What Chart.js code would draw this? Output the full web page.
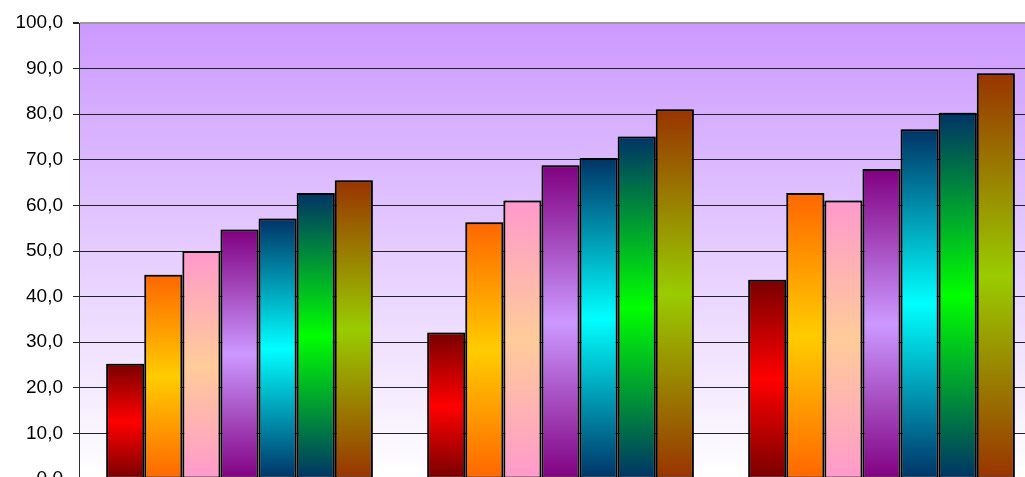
<!DOCTYPE html>
<html>
<head>
<meta charset="utf-8">
<script src="https://cdn.jsdelivr.net/npm/chart.js@4/dist/chart.umd.min.js"></script>
<style>
  html, body { margin: 0; padding: 0; background: #fff; overflow: hidden; }
  #wrap { width: 1042px; height: 501px; }
</style>
</head>
<body>
<div id="wrap"><canvas id="chart" width="1042" height="501"></canvas></div>
<script>
// categorie (le etichette dell'asse x sono fuori dall'immagine)
const categories = ['1', '2', '3'];

// valori delle 7 serie
const serie1 = [25.3, 32.1, 43.7];
const serie2 = [44.8, 56.3, 62.7];
const serie3 = [50.0, 61.1, 61.1];
const serie4 = [54.7, 68.8, 68.0];
const serie5 = [57.1, 70.4, 76.7];
const serie6 = [62.7, 75.1, 80.3];
const serie7 = [65.5, 81.1, 89.0];

const seriesNames = ['Serie 1', 'Serie 2', 'Serie 3', 'Serie 4', 'Serie 5', 'Serie 6', 'Serie 7'];
const seriesValues = [serie1, serie2, serie3, serie4, serie5, serie6, serie7];

// asse y
const yMin = 0, yMax = 100, yStep = 10;

// colori sfumatura: bordo (alto/basso) e centro
const edgeColors   = ['#780000', '#FF6600', '#FF99CC', '#800080', '#003366', '#003366', '#993300'];
const centerColors = ['#FF0000', '#FFCC00', '#FFCC99', '#CC99FF', '#00FFFF', '#00FF00', '#99CC00'];

// sfumatura verticale relativa alla singola barra
function barGradient(i) {
    return function(ctx) {
        const chart = ctx.chart;
        if (!chart.chartArea || ctx.raw == null) return centerColors[i];
        const y = chart.scales.y;
        const top = y.getPixelForValue(ctx.raw);
        const bot = y.getPixelForValue(0);
        const g = chart.ctx.createLinearGradient(0, bot, 0, top);
        g.addColorStop(0, edgeColors[i]);
        g.addColorStop(0.5, centerColors[i]);
        g.addColorStop(1, edgeColors[i]);
        return g;
    };
}

// sfondo dell'area del grafico: viola in alto, bianco in basso
const plotBackground = {
    id: 'plotBackground',
    beforeDraw(chart) {
        const { ctx, chartArea: a } = chart;
        const g = ctx.createLinearGradient(0, a.top, 0, a.bottom);
        g.addColorStop(0, '#CC99FF');
        g.addColorStop(1, '#FFFFFF');
        ctx.save();
        ctx.fillStyle = g;
        ctx.fillRect(a.left, a.top, a.right - a.left, a.bottom - a.top);
        ctx.restore();
    }
};

// ombra grigia delle barre
const barShadow = {
    id: 'barShadow',
    beforeDatasetsDraw(chart) {
        chart.ctx.save();
        chart.ctx.shadowColor = 'rgba(0,0,0,0.35)';
        chart.ctx.shadowBlur = 2;
        chart.ctx.shadowOffsetX = 1;
        chart.ctx.shadowOffsetY = -1;
    },
    afterDatasetsDraw(chart) {
        chart.ctx.restore();
    }
};

const datasets = seriesValues.map((vals, i) => ({
    label: seriesNames[i],
    data: vals,
    backgroundColor: barGradient(i),
    borderColor: '#000',
    borderWidth: 2,
    borderSkipped: false,
    categoryPercentage: 0.831,
    barPercentage: 1
}));

new Chart(document.getElementById('chart'), {
    type: 'bar',
    data: { labels: categories, datasets: datasets },
    plugins: [plotBackground, barShadow],
    options: {
        responsive: false,
        devicePixelRatio: 1,
        animation: false,
        layout: { padding: { top: 23, right: 0, bottom: 22, left: 0 } },
        plugins: {
            legend: { display: false },
            tooltip: { enabled: false }
        },
        scales: {
            x: {
                display: false
            },
            y: {
                min: yMin,
                max: yMax,
                afterFit: s => { s.width = 79; },
                ticks: {
                    stepSize: yStep,
                    color: '#000',
                    padding: 10,
                    font: { family: 'Liberation Sans, Arial, sans-serif', size: 19 },
                    callback: v => v.toFixed(1).replace('.', ',')
                },
                grid: {
                    color: c => c.tick && c.tick.value === yMax ? '#999' : '#222',
                    lineWidth: c => c.tick && c.tick.value === yMax ? 2 : 1,
                    tickColor: '#222',
                    tickLength: 6,
                    drawTicks: true
                },
                border: { display: true, color: '#333', width: 1 }
            }
        }
    }
});
</script>
</body>
</html>
